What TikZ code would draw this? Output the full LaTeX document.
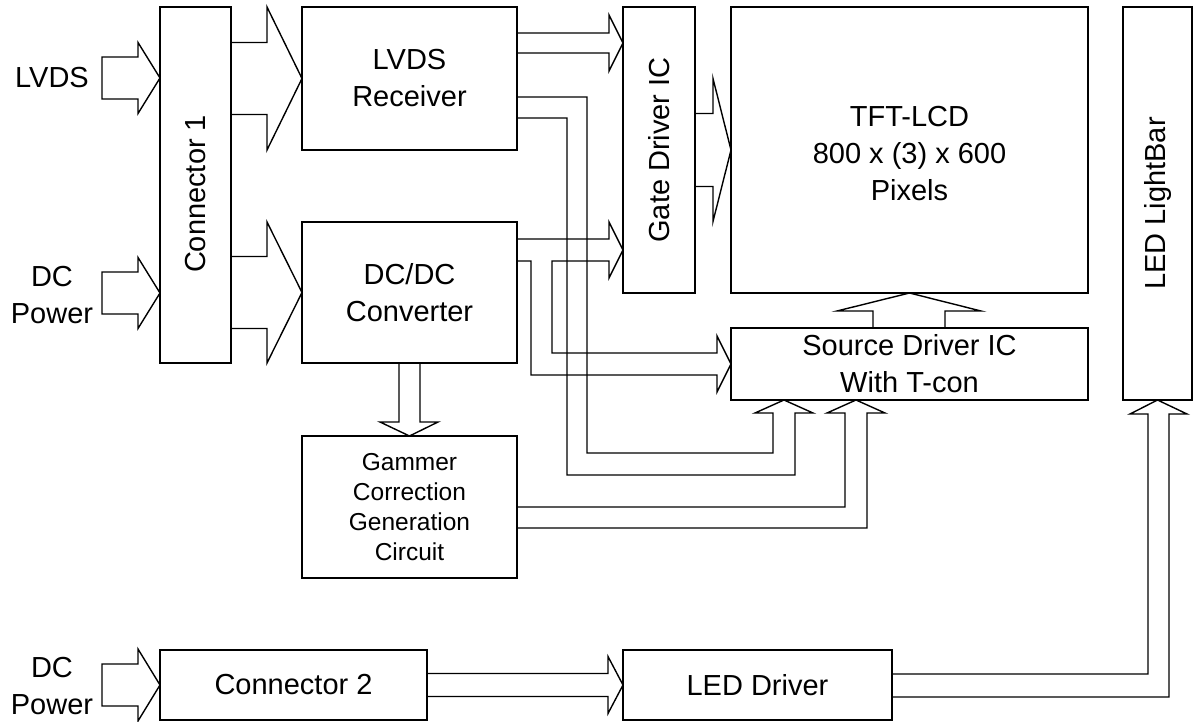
\documentclass[tikz,border=0pt]{standalone}
\usepackage{fontspec}
\setmainfont{Liberation Sans}
\usetikzlibrary{calc}
\newcommand{\rarr}[5]{%
  \draw[pipe] let \p1=#1, \p2=#2 in
    (\x1,\y2+#3) -- (\x2-#5,\y2+#3) -- (\x2-#5,\y2+#4) -- (\x2,\y2)
    -- (\x2-#5,\y2-#4) -- (\x2-#5,\y2-#3) -- (\x1,\y2-#3) -- cycle;}
\begin{document}
\begin{tikzpicture}[x=1pt,y=-1pt,
  font=\fontsize{29}{37}\selectfont,
  blk/.style={draw, line width=1.4pt, inner sep=0pt, outer sep=0pt, align=center},
  pipe/.style={draw, line width=1.4pt, line join=miter},
  txt/.style={inner sep=0pt, align=center}]
\useasboundingbox (0,0) rectangle (1194,722);

% boxes
\node[blk, minimum width=71pt, minimum height=356pt, label={[rotate=90, yshift=0pt, xshift=-9pt]center:Connector 1}] (c1) at (195.5,185) {};
\node[blk, minimum width=215pt, minimum height=143pt] (rx) at (409.5,78.5) {LVDS\\Receiver};
\node[blk, minimum width=215pt, minimum height=141pt] (dc) at (409.5,292.5) {DC/DC\\Converter};
\node[blk, minimum width=215pt, minimum height=142pt, font=\fontsize{24.5}{30}\selectfont] (gm) at (409.5,507) {Gammer\\Correction\\Generation\\Circuit};
\node[blk, minimum width=72pt, minimum height=286pt, label={[rotate=90]center:Gate Driver IC}] (gd) at (659,150) {};
\node[blk, minimum width=357pt, minimum height=286pt, label={[align=center, yshift=-4pt]center:TFT-LCD\\800 x (3) x 600\\Pixels}] (tft) at (909.5,150) {};
\node[blk, minimum width=357pt, minimum height=72pt] (sd) at (909.5,364) {Source Driver IC\\With T-con};
\node[blk, minimum width=69pt, minimum height=393pt, label={[rotate=90]center:LED LightBar}] (lb) at (1157.5,203.5) {};
\node[blk, minimum width=267pt, minimum height=70pt] (c2) at (293.5,685) {Connector 2};
\node[blk, minimum width=269pt, minimum height=70pt] (ld) at (757.5,685) {LED Driver};

% input labels
\node[txt] (lvds) at (52,78) {LVDS};
\node[txt] (dcp1) at (52,295) {DC\\Power};
\node[txt] (dcp2) at (52,686) {DC\\Power};
\coordinate (in1) at (102,78);
\coordinate (in2) at (102,293);
\coordinate (in3) at (102,686);

% straight block arrows
\rarr{(in1)}{(c1.west |- 0,78)}{21pt}{35.5pt}{22pt}
\rarr{(in2)}{(c1.west |- 0,293)}{21pt}{35.5pt}{22pt}
\rarr{(in3)}{(c2.west)}{21pt}{36pt}{22pt}
\rarr{(c1.east)}{(rx.west)}{36pt}{71.5pt}{35pt}
\rarr{(c1.east)}{(dc.west)}{36pt}{70.5pt}{35pt}
\rarr{(rx.east)}{(gd.west |- 0,43)}{10pt}{28pt}{14pt}
\rarr{(gd.east)}{(tft.west)}{36.5pt}{71.5pt}{18pt}
\rarr{(c2.east)}{(ld.west)}{11.5pt}{28.5pt}{15pt}

% DC/DC -> Gate driver and Source driver (branching)
\draw[pipe] (dc.east |- 0,239) -- (609,239) -- (609,222) -- (gd.west |- 0,250) -- (609,278) -- (609,261)
  -- (552,261) -- (552,353) -- (717,353) -- (717,336) -- (sd.west) -- (717,392) -- (717,375)
  -- (531,375) -- (531,261) -- (dc.east |- 0,261);

% Receiver -> Source driver
\draw[pipe] (rx.east |- 0,97) -- (587,97) -- (587,453) -- (773,453) -- (773,413) -- (755,413)
  -- (sd.south -| 784,0) -- (813,413) -- (795,413) -- (795,475) -- (567,475) -- (567,118) -- (rx.east |- 0,118);

% Gammer -> Source driver
\draw[pipe] (gm.east |- 0,507) -- (845,507) -- (845,413) -- (827,413) -- (sd.south -| 856,0)
  -- (885,413) -- (867,413) -- (867,528) -- (gm.east |- 0,528);

% Source driver -> TFT
\draw[pipe] (sd.north -| 873,0) -- (873,311) -- (837,311) -- (tft.south) -- (981,311) -- (945,311) -- (sd.north -| 945,0);

% DC/DC -> Gammer
\draw[pipe] (dc.south -| 399,0) -- (399,422) -- (380,422) -- (gm.north) -- (438,422) -- (420,422) -- (dc.south -| 420,0);

% LED driver -> LightBar
\draw[pipe] (ld.east |- 0,674) -- (1148,674) -- (1148,414) -- (1130,414) -- (lb.south) -- (1187,414)
  -- (1169,414) -- (1169,697) -- (ld.east |- 0,697);
\end{tikzpicture}
\end{document}
